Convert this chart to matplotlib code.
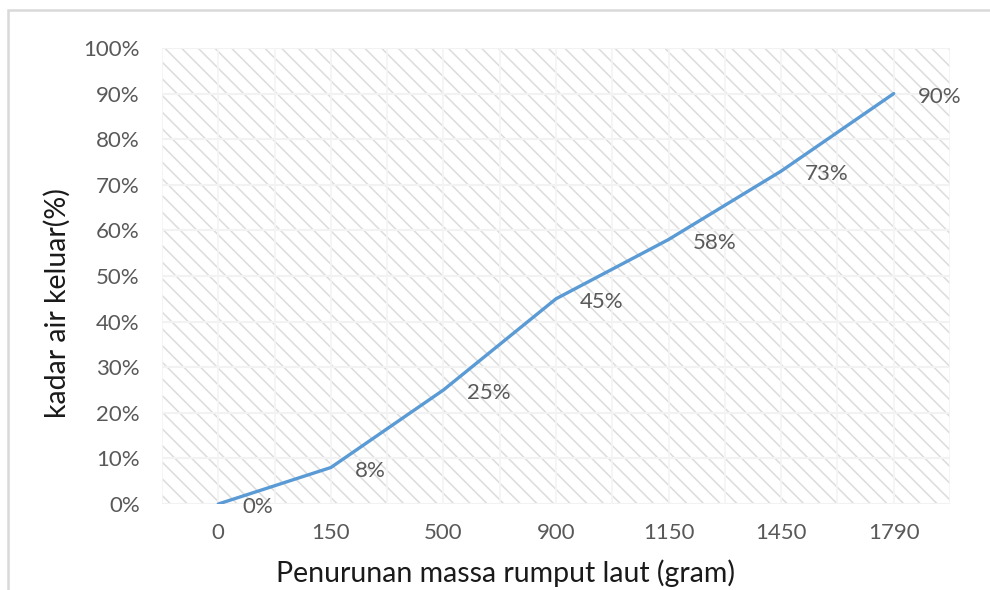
import numpy as np
import matplotlib
matplotlib.use("Agg")
from matplotlib import pyplot as plt
from matplotlib.patches import Rectangle

# data
massa = ["0", "150", "500", "900", "1150", "1450", "1790"]
kadar_air = [0.0, 0.08, 0.25, 0.45, 0.58, 0.73, 0.90]
label_teks = ["0%", "8%", "25%", "45%", "58%", "73%", "90%"]
y_ticks = [0.0, 0.1, 0.2, 0.3, 0.4, 0.5, 0.6, 0.7, 0.8, 0.9, 1.0]

plt.rcParams['font.family'] = ['Lato', 'DejaVu Sans']
plt.rcParams['hatch.color'] = '#dcdcdc'
plt.rcParams['hatch.linewidth'] = 1.1

fig = plt.figure(figsize=(9.9, 5.9), dpi=100)
ax = fig.add_axes([162/990, 1-504/590, (950-162)/990, (504-48)/590])

# hatched plot area like the excel pattern fill
ax.patch.set_facecolor('white')
ax.patch.set_hatch('\\\\')
ax.patch.set_edgecolor('#dcdcdc')
ax.patch.set_linewidth(0)

x = np.arange(len(massa))

# faint grid (lighter lines through the hatch)
for yv in y_ticks:
    ax.axhline(yv, color='#f2f2f2', lw=1.5, zorder=1)
for xv in np.arange(-0.5, len(massa), 0.5):
    ax.axvline(xv, color='#f4f4f4', lw=1.2, zorder=1)

ax.plot(x, kadar_air, color='#5b9bd5', lw=2.4, solid_capstyle='round', zorder=3)

for xi, yi, t in zip(x, kadar_air, label_teks):
    ax.annotate(t, (xi, yi), xytext=(24, -3), textcoords='offset pixels',
                ha='left', va='center', fontsize=16, color='#595959', zorder=4)

ax.set_xlim(-0.5, len(massa) - 0.5)
ax.set_ylim(0, 1.0)
ax.set_xticks(x)
ax.set_xticklabels(massa)
ax.set_yticks(y_ticks)
ax.set_yticklabels([f"{int(round(v*100))}%" for v in y_ticks])
ax.tick_params(axis='both', length=0, labelsize=16, labelcolor='#595959')
ax.tick_params(axis='y', pad=16)
ax.tick_params(axis='x', pad=14)
for s in ax.spines.values():
    s.set_visible(False)

ax.set_xlabel("Penurunan massa rumput laut (gram)", fontsize=20.5, color='#1a1a1a')
ax.set_ylabel("kadar air keluar(%)", fontsize=20.5, color='#1a1a1a')
# excel put the titles a bit off-centre
ax.xaxis.set_label_coords((506-162)/788, (504-573)/456)
ax.xaxis.label.set_va('center')
ax.yaxis.set_label_coords((57-162)/788, (504-303)/456)
ax.yaxis.label.set_va('center')

# light frame around the chart (only left/top visible in the crop)
fig.add_artist(Rectangle((8/990, -0.05), 1.2, 1 - 10/590 + 0.05, transform=fig.transFigure,
                         fill=False, edgecolor='#d9d9d9', lw=1.8))

fig.savefig("out.png", dpi=100)
